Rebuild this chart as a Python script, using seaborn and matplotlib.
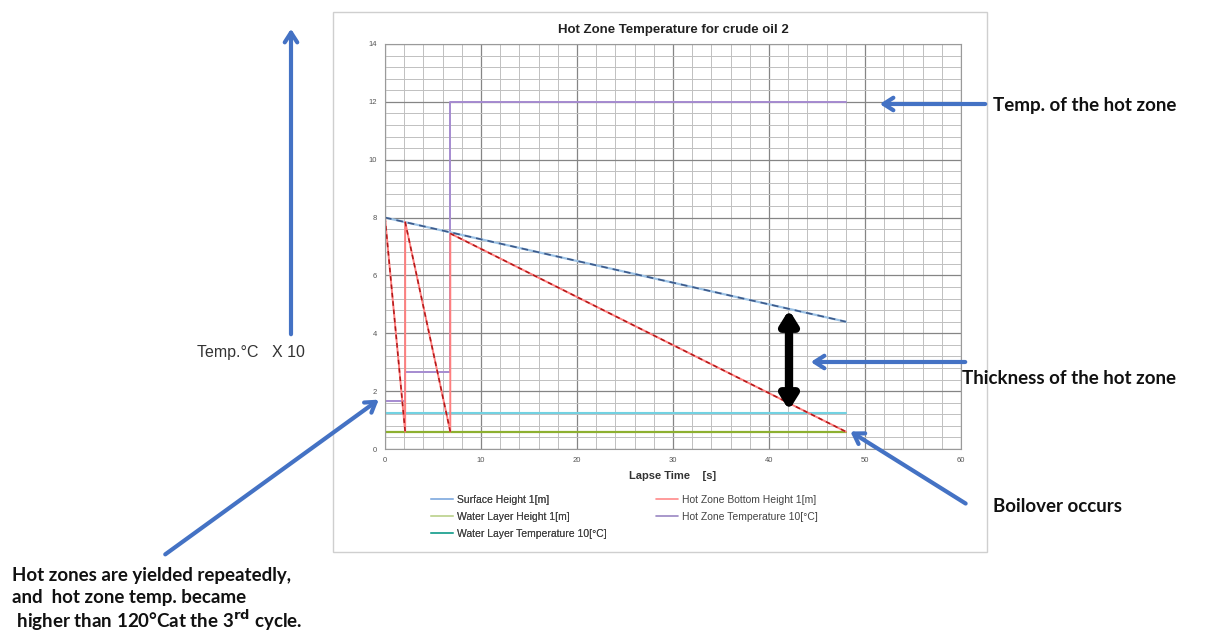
"""Hot zone temperature for crude oil 2 - boilover sketch."""
import matplotlib.pyplot as plt
import numpy as np
import pandas as pd
import seaborn as sns
from matplotlib.lines import Line2D
from matplotlib.patches import Rectangle

W, H = 1213, 637

# data (x: lapse time, y: height [m] / temp [10 degC])
time_surface = [0, 48]
surface_height = [8.0, 4.4]
time_bottom = [0, 2.1, 2.1, 6.8, 6.8, 48]
bottom_height = [8.0, 0.6, 7.85, 0.6, 7.45, 0.6]
time_water = [0, 48]
water_height = [0.6, 0.6]
water_temp = [1.25, 1.25]
time_hz_temp = [0, 2.1, 2.1, 6.8, 6.8, 48]
hz_temp = [1.65, 1.65, 2.65, 2.65, 12.0, 12.0]

x_ticks = [0, 10, 20, 30, 40, 50, 60]
y_ticks = [0, 2, 4, 6, 8, 10, 12, 14]
legend_left = ["Surface Height 1[m]", "Water Layer Height 1[m]", "Water Layer Temperature 10[\u00b0C]"]
colors_left = ["#8fb4e3", "#c4d79b", "#31a99a"]
legend_right = ["Hot Zone Bottom Height 1[m]", "Hot Zone Temperature 10[\u00b0C]"]
colors_right = ["#ff8a8a", "#9a86c2"]

sns.set_style("white")
plt.rcParams["font.family"] = ["Liberation Sans", "DejaVu Sans"]

BLUE = "#4472c4"
NOTE = dict(family=["Lato", "DejaVu Sans"], fontweight="bold", fontsize=13.5, color="#111111")


def P(x, y):
    return (x / W, 1 - y / H)


fig = plt.figure(figsize=(W / 100, H / 100), dpi=100)
fig.patches.append(Rectangle(P(333, 552), (987 - 333) / W, (552 - 12) / H, transform=fig.transFigure,
                             fill=False, edgecolor="#cfcfcf", lw=1))
ax = fig.add_axes([385 / W, 1 - 449 / H, (961 - 385) / W, (449 - 44) / H])

# grid
ax.set_xlim(0, 60)
ax.set_ylim(0, 14)
ax.set_xticks(x_ticks)
ax.set_yticks(y_ticks)
ax.set_xticks(np.arange(0, 61, 2), minor=True)
ax.set_yticks(np.arange(0, 14.01, 0.4), minor=True)
ax.grid(which="minor", color="#c0c0c0", lw=0.7)
ax.grid(which="major", color="#858585", lw=0.9)
ax.set_axisbelow(True)
ax.tick_params(which="both", length=0, labelsize=5.5, labelcolor="#555555", pad=6)
for s in ax.spines.values():
    s.set_color("#9a9a9a")
    s.set_linewidth(0.8)

# series
sns.lineplot(x=time_water, y=water_height, ax=ax, color="#8db030", lw=1.6, sort=False, estimator=None)
sns.lineplot(x=time_water, y=water_temp, ax=ax, color="#72d2e2", lw=1.5, sort=False, estimator=None)
sns.lineplot(x=time_hz_temp, y=hz_temp, ax=ax, color="#a58bd0", lw=1.4, sort=False, estimator=None)
sns.lineplot(x=time_surface, y=surface_height, ax=ax, color="#9dc3e6", lw=1.6, sort=False, estimator=None)
sns.lineplot(x=time_surface, y=surface_height, ax=ax, color="#3d5a8a", lw=1.2, ls=(0, (4, 3)),
             sort=False, estimator=None)
sns.lineplot(x=time_bottom, y=bottom_height, ax=ax, color="#ff7f7f", lw=1.4, sort=False, estimator=None)
for i in range(len(time_bottom) - 1):
    if bottom_height[i + 1] < bottom_height[i]:
        seg = pd.DataFrame({"t": time_bottom[i:i + 2], "h": bottom_height[i:i + 2]})
        sns.lineplot(data=seg, x="t", y="h", ax=ax, color="#b01818", lw=1.1, ls=(0, (3, 2.5)),
                     sort=False, estimator=None)

ax.set_title("Hot Zone Temperature for crude oil 2", fontsize=9.5, fontweight="bold", color="#222222", pad=8)
ax.set_xlabel("Lapse Time    [s]", fontsize=8, fontweight="bold", color="#333333", labelpad=5)
ax.set_ylabel("")

leg_kw = dict(frameon=False, fontsize=7.5, labelcolor="#444444", loc="upper left", handlelength=2.1,
              labelspacing=0.65, handletextpad=0.4, borderaxespad=0, borderpad=0)
leg1 = fig.legend([Line2D([], [], color=c, lw=1.2) for c in colors_left], legend_left,
                  bbox_to_anchor=P(431, 495), **leg_kw)
fig.legend([Line2D([], [], color=c, lw=1.2) for c in colors_right], legend_right,
           bbox_to_anchor=P(656, 495), **leg_kw)
fig.add_artist(leg1)

# annotations outside the chart
arrow = dict(arrowstyle="->,head_length=0.7,head_width=0.45", color=BLUE, lw=3)


def note_arrow(head, tail, props=arrow):
    fig.add_artist(plt.Annotation("", xy=P(*head), xytext=P(*tail), xycoords="figure fraction",
                                  textcoords="figure fraction", arrowprops=props))


note_arrow((291, 26), (291, 337))
fig.text(*P(197, 352), "Temp.\u00b0C   X 10", fontsize=11.5, color="#333333", va="center", ha="left")
note_arrow((381, 398), (163, 556))
fig.text(*P(12, 576), "Hot zones are yielded repeatedly,", va="center", ha="left", **NOTE)
fig.text(*P(12, 598), "and  hot zone temp. became", va="center", ha="left", **NOTE)
fig.text(*P(12, 620), " higher than 120\u00b0Cat the 3$^{\\mathbf{rd}}$ cycle.", va="center", ha="left", **NOTE)

note_arrow((877, 104), (988, 104))
fig.text(*P(993, 106), "Temp. of the hot zone", va="center", ha="left", **NOTE)

note_arrow((808, 362), (968, 362))
fig.text(*P(962, 379), "Thickness of the hot zone", va="center", ha="left", **NOTE)

note_arrow((848, 430), (968, 505))
fig.text(*P(993, 506), "Boilover occurs", va="center", ha="left", **NOTE)

# thickness double arrow (hollow shaft)
note_arrow((789, 307), (789, 413), dict(arrowstyle="<|-|>,head_length=0.8,head_width=0.5", color="black", lw=6))
fig.add_artist(plt.Line2D([789 / W, 789 / W], [1 - 324 / H, 1 - 396 / H], color="#b8b8b8", lw=2.2,
                          transform=fig.transFigure))

fig.savefig("out.png", dpi=100)
